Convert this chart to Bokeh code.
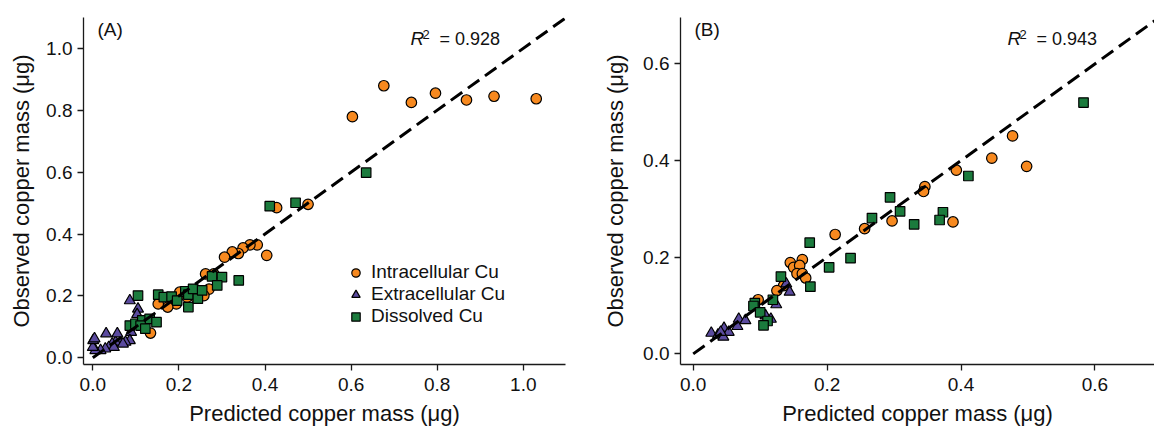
from bokeh.plotting import figure
from bokeh.layouts import row
from bokeh.models import (Range1d, FixedTicker, PrintfTickFormatter, Label,
                          Legend, LegendItem)
from bokeh.embed import file_html
from bokeh.resources import INLINE

# ---------------- data ----------------
# Panel A
a_intra_x = [1.030, 0.932, 0.868, 0.796, 0.740, 0.676, 0.603, 0.500, 0.427, 0.404,
             0.382, 0.365, 0.349, 0.338, 0.324, 0.306, 0.281, 0.262, 0.270, 0.258,
             0.239, 0.219, 0.202, 0.194, 0.174, 0.152, 0.134]
a_intra_y = [0.837, 0.845, 0.833, 0.855, 0.825, 0.879, 0.779, 0.496, 0.485, 0.331,
             0.365, 0.365, 0.355, 0.337, 0.342, 0.325, 0.271, 0.271, 0.222, 0.201,
             0.196, 0.196, 0.212, 0.174, 0.164, 0.174, 0.080]
a_extra_x = [0.086, 0.105, 0.103, 0.089, 0.086, 0.076, 0.064, 0.053, 0.057, 0.031,
             0.045, 0.037, 0.049, 0.029, 0.018, 0.006, 0.000, 0.001, 0.004, 0.070]
a_extra_y = [0.185, 0.158, 0.140, 0.083, 0.056, 0.051, 0.051, 0.051, 0.078, 0.078,
             0.045, 0.034, 0.034, 0.029, 0.024, 0.024, 0.034, 0.056, 0.062, 0.045]
a_diss_x = [0.105, 0.152, 0.165, 0.183, 0.196, 0.215, 0.222, 0.233, 0.222, 0.244,
            0.254, 0.277, 0.300, 0.289, 0.339, 0.411, 0.471, 0.635, 0.086, 0.099,
            0.115, 0.132, 0.148, 0.111, 0.122]
a_diss_y = [0.201, 0.204, 0.196, 0.198, 0.185, 0.215, 0.204, 0.223, 0.164, 0.191,
            0.218, 0.263, 0.261, 0.234, 0.250, 0.490, 0.501, 0.598, 0.104, 0.110,
            0.121, 0.126, 0.115, 0.104, 0.094]
a_fit = [0.0, 1.1]
a_r2 = "0.928"

# Panel B
b_intra_x = [0.498, 0.477, 0.446, 0.393, 0.388, 0.346, 0.344, 0.297, 0.256, 0.212,
             0.145, 0.150, 0.163, 0.159, 0.155, 0.163, 0.168, 0.135, 0.125, 0.097]
b_intra_y = [0.388, 0.451, 0.405, 0.380, 0.273, 0.346, 0.336, 0.275, 0.259, 0.247,
             0.189, 0.179, 0.195, 0.183, 0.166, 0.166, 0.157, 0.141, 0.131, 0.112]
b_extra_x = [0.027, 0.037, 0.045, 0.046, 0.053, 0.041, 0.066, 0.068, 0.078, 0.108,
             0.116, 0.124, 0.144, 0.139]
b_extra_y = [0.043, 0.039, 0.035, 0.053, 0.045, 0.045, 0.057, 0.072, 0.069, 0.079,
             0.072, 0.102, 0.128, 0.145]
b_diss_x = [0.583, 0.411, 0.373, 0.368, 0.330, 0.309, 0.294, 0.267, 0.235, 0.203,
            0.174, 0.175, 0.131, 0.119, 0.092, 0.090, 0.100, 0.111, 0.105]
b_diss_y = [0.520, 0.368, 0.293, 0.277, 0.268, 0.295, 0.324, 0.281, 0.198, 0.179,
            0.230, 0.139, 0.160, 0.112, 0.105, 0.099, 0.086, 0.068, 0.059]
b_fit = [0.0, 0.7]
b_r2 = "0.943"

a_ticks = [0.0, 0.2, 0.4, 0.6, 0.8, 1.0]
b_ticks = [0.0, 0.2, 0.4, 0.6]
series_names = ["Intracellular Cu", "Extracellular Cu", "Dissolved Cu"]

# ---------------- style ----------------
FONT = "Liberation Sans"
ORANGE = "#F7891F"
PURPLE = "#5B4B9F"
GREEN = "#1B7B3D"
TICK_FS = "19px"
LABEL_FS = "22px"
LEGEND_FS = "19px"
HEIGHT = 429


def make_panel(width, border_left, border_right, xr, yr, ticks,
               intra, extra, diss, fit, letter, r2, ylab_standoff, legend=False):
    p = figure(width=width, height=HEIGHT, output_backend="svg", toolbar_location=None,
               x_range=Range1d(*xr), y_range=Range1d(*yr),
               min_border_left=border_left, min_border_right=border_right,
               min_border_top=17, min_border_bottom=65)
    p.outline_line_color = None
    p.grid.visible = False
    p.background_fill_color = "white"
    p.border_fill_color = "white"

    for ax in (p.xaxis[0], p.yaxis[0]):
        ax.ticker = FixedTicker(ticks=ticks)
        ax.formatter = PrintfTickFormatter(format="%.1f")
        ax.axis_line_color = "#1a1a1a"
        ax.axis_line_width = 1.3
        ax.major_tick_line_color = "#1a1a1a"
        ax.major_tick_line_width = 1.3
        ax.major_tick_out = 6
        ax.major_tick_in = 0
        ax.minor_tick_line_color = None
        ax.major_label_text_font = FONT
        ax.major_label_text_font_size = TICK_FS
        ax.major_label_text_color = "#111111"
        ax.axis_label_text_font = FONT
        ax.axis_label_text_font_size = LABEL_FS
        ax.axis_label_text_font_style = "normal"
        ax.axis_label_text_color = "#111111"
    p.xaxis.axis_label = "Predicted copper mass (\u03bcg)"
    p.yaxis.axis_label = "Observed copper mass (\u03bcg)"
    p.xaxis.major_label_standoff = 7
    p.xaxis.axis_label_standoff = 7
    p.yaxis.major_label_standoff = 5
    p.yaxis.axis_label_standoff = ylab_standoff

    r_i = p.scatter(intra[0], intra[1], marker="circle", size=10.5,
                    fill_color=ORANGE, line_color="black", line_width=1.2)
    r_e = p.scatter(extra[0], extra[1], marker="triangle", size=11,
                    fill_color=PURPLE, line_color="black", line_width=1.2)
    r_d = p.scatter(diss[0], diss[1], marker="square", size=9.5,
                    fill_color=GREEN, line_color="black", line_width=1.2)
    p.line(fit, fit, line_color="black", line_width=3, line_dash="14 7")

    p.add_layout(Label(x=14, y=335, x_units="screen", y_units="screen", text=letter,
                       text_font=FONT, text_font_size=TICK_FS, text_color="#111111",
                       text_baseline="alphabetic"))
    # R^2 annotation (relative to frame)
    base_x = 327
    p.add_layout(Label(x=base_x, y=326, x_units="screen", y_units="screen", text="R",
                       text_font=FONT, text_font_size=TICK_FS, text_font_style="italic",
                       text_color="#111111", text_baseline="alphabetic"))
    p.add_layout(Label(x=base_x + 12, y=330, x_units="screen", y_units="screen", text="2",
                       text_font=FONT, text_font_size="13px", text_color="#111111",
                       text_baseline="alphabetic"))
    p.add_layout(Label(x=base_x + 29, y=326, x_units="screen", y_units="screen",
                       text="= " + r2, text_font=FONT, text_font_size="18px",
                       text_color="#111111", text_baseline="alphabetic"))

    if legend:
        lg = Legend(items=[LegendItem(label=series_names[0], renderers=[r_i]),
                           LegendItem(label=series_names[1], renderers=[r_e]),
                           LegendItem(label=series_names[2], renderers=[r_d])],
                    location=(260, 37), padding=0, margin=0, spacing=0,
                    glyph_width=25, glyph_height=21, label_standoff=3,
                    label_height=21, label_text_font=FONT,
                    label_text_font_size=LEGEND_FS, label_text_color="#111111",
                    border_line_color=None, background_fill_alpha=0)
        p.add_layout(lg, "center")
    return p


pA = make_panel(600, 83, 35, (-0.0216, 1.098), (-0.0216, 1.0995), a_ticks,
                (a_intra_x, a_intra_y), (a_extra_x, a_extra_y), (a_diss_x, a_diss_y),
                a_fit, "(A)", a_r2, 9, legend=True)
pB = make_panel(554, 80, 0, (-0.019, 0.689), (-0.022, 0.696), b_ticks,
                (b_intra_x, b_intra_y), (b_extra_x, b_extra_y), (b_diss_x, b_diss_y),
                b_fit, "(B)", b_r2, 12)

layout = row(pA, pB)
open("out.html", "w").write(file_html(layout, INLINE))
